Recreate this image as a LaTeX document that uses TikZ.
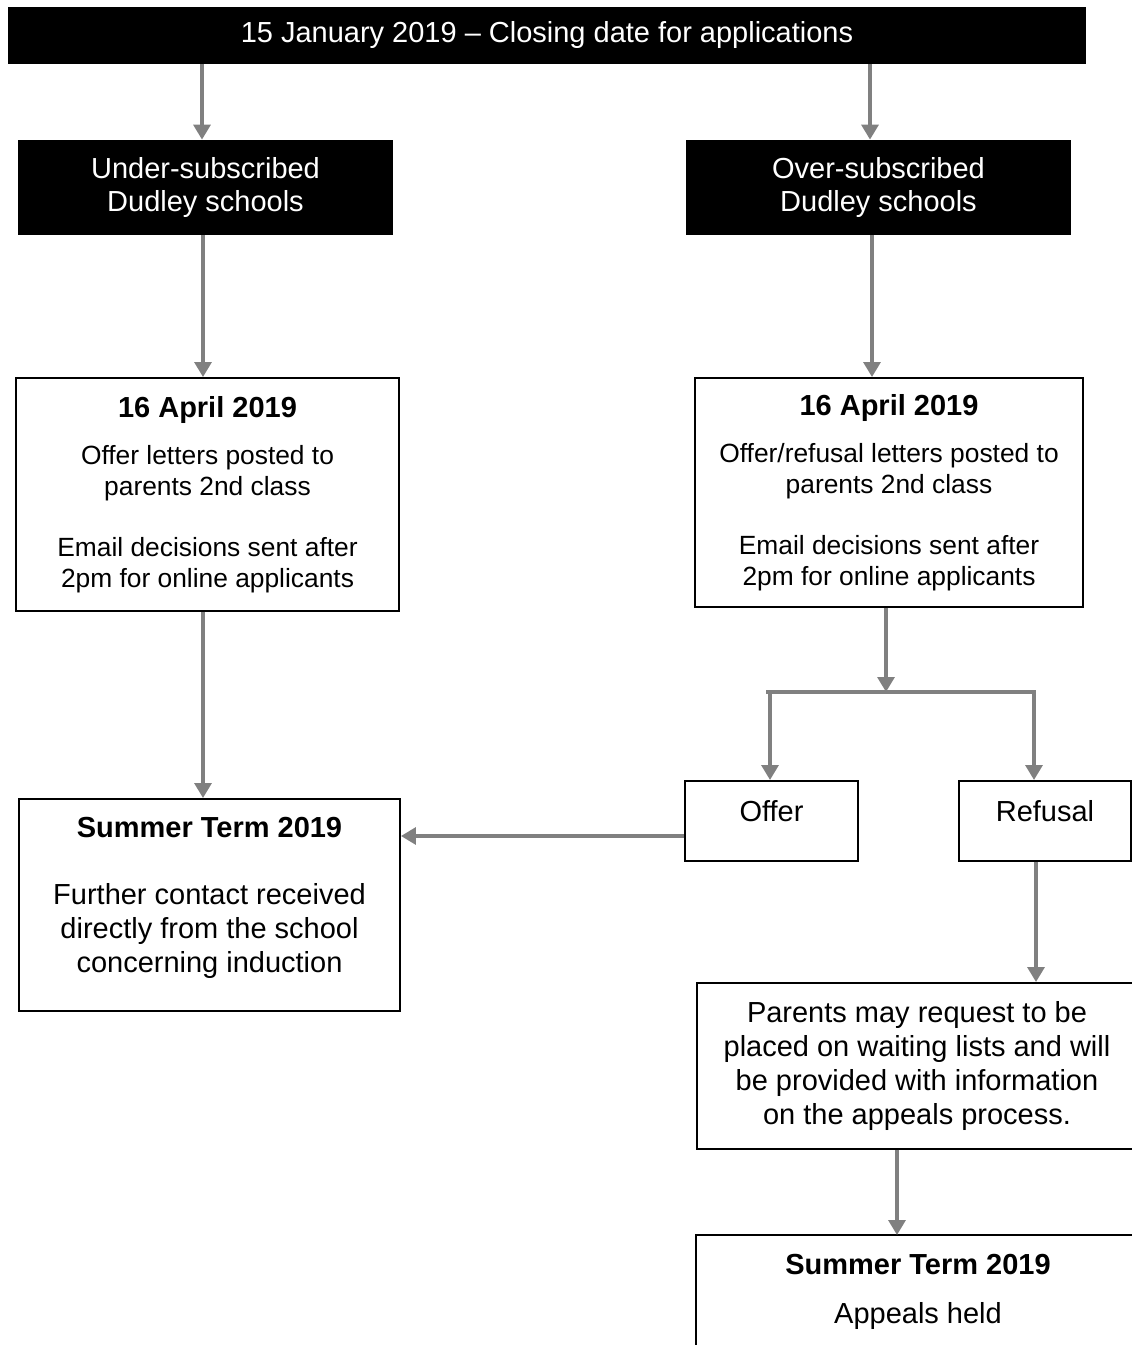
\documentclass[tikz,border=0pt]{standalone}
\usepackage{fontspec}
\setmainfont{Liberation Sans}
\usetikzlibrary{arrows.meta}

\definecolor{arrowgray}{RGB}{128,128,128}
\newcommand{\bigtext}{\fontsize{16.5}{19.3}\selectfont}
\newcommand{\smalltext}{\fontsize{15}{17.6}\selectfont}

\tikzset{
  darkbox/.style={fill=black, text=white, inner sep=0pt, align=center, font=\bigtext},
  whitebox/.style={draw=black, line width=1.1pt, fill=white, inner sep=0pt, align=center, font=\bigtext},
  flow/.style={draw=arrowgray, line width=2.8pt, -{Triangle[length=8.5pt,width=9.5pt]}},
  link/.style={draw=arrowgray, line width=2.8pt},
}

\begin{document}
\begin{tikzpicture}[x=0.02cm, y=-0.02cm]
    \useasboundingbox (0,0) rectangle (1132,1345);
    \clip (0,0) rectangle (1132,1345);

    % Closing date
    \node[darkbox, minimum width=21.56cm, minimum height=1.14cm] (date) at (547,35.5)
        {15 January 2019 -- Closing date for applications};

    % Two kinds of school
    \node[darkbox, minimum width=7.5cm, minimum height=1.9cm] (under) at (205.5,187.5)
        {Under-subscribed\\ Dudley schools};
    \node[darkbox, minimum width=7.7cm, minimum height=1.9cm] (over) at (878.5,187.5)
        {Over-subscribed\\ Dudley schools};

    % Offer day
    \node[whitebox, font=\smalltext, minimum width=7.66cm, minimum height=4.66cm] (aprilL) at (207.5,494.5)
        {{\bigtext\bfseries 16 April 2019}\\[9.6pt]
         Offer letters posted to\\ parents 2nd class\\[17pt]
         Email decisions sent after\\ 2pm for online applicants};
    \node[whitebox, font=\smalltext, minimum width=7.76cm, minimum height=4.58cm] (aprilR) at (889,492.5)
        {{\bigtext\bfseries 16 April 2019}\\[9.6pt]
         Offer/refusal letters posted to\\ parents 2nd class\\[17pt]
         Email decisions sent after\\ 2pm for online applicants};

    % Induction
    \node[whitebox, minimum width=7.62cm, minimum height=4.24cm, text depth=12pt] (summerL) at (209.5,905)
        {\textbf{Summer Term 2019}\\[19pt]
         Further contact received\\ directly from the school\\ concerning induction};

    % Offer or refusal
    \node[whitebox, minimum width=3.46cm, text height=0.8cm, text depth=0.8cm] (offer) at (771.5,821) {Offer};
    \node[whitebox, minimum width=3.44cm, text height=0.8cm, text depth=0.8cm] (refusal) at (1045,821) {Refusal};

    % Waiting lists
    \node[whitebox, minimum width=8.8cm, minimum height=3.32cm] (parents) at (917,1066)
        {Parents may request to be\\ placed on waiting lists and will\\ be provided with information\\ on the appeals process.};

    % Appeals
    \node[whitebox, draw=none, fill=none, minimum width=8.84cm, minimum height=2.24cm] (appeals) at (918,1292)
        {\textbf{Summer Term 2019}\\[9pt] Appeals held};
    \draw[black, line width=1.1pt] ([yshift=-1cm]appeals.south west) -- (appeals.north west) -- (appeals.north east);

    \coordinate (split) at (886,692);
    \coordinate (splitL) at (770,692);
    \coordinate (splitR) at (1034,692);

    % Connectors
    \draw[flow] (date.south -| 202,0) -- (under.north -| 202,0);
    \draw[flow] (date.south -| 870,0) -- (over.north -| 870,0);
    \draw[flow] (under.south -| 203,0) -- (aprilL.north -| 203,0);
    \draw[flow] (over.south -| 872,0) -- (aprilR.north -| 872,0);
    \draw[flow] (aprilL.south -| 203,0) -- (summerL.north -| 203,0);
    \draw[flow] (aprilR.south -| split) -- (split);
    \draw[link] ([xshift=-0.08cm]splitL) -- ([xshift=0.04cm]splitR);
    \draw[flow] (splitL) -- (offer.north -| splitL);
    \draw[flow] (splitR) -- (refusal.north -| splitR);
    \draw[flow] ([yshift=-0.3cm]offer.west) -- ([yshift=-0.3cm]offer.west -| summerL.east);
    \draw[flow] (refusal.south -| 1036,0) -- (parents.north -| 1036,0);
    \draw[flow] (parents.south -| 897,0) -- (appeals.north -| 897,0);
\end{tikzpicture}
\end{document}
